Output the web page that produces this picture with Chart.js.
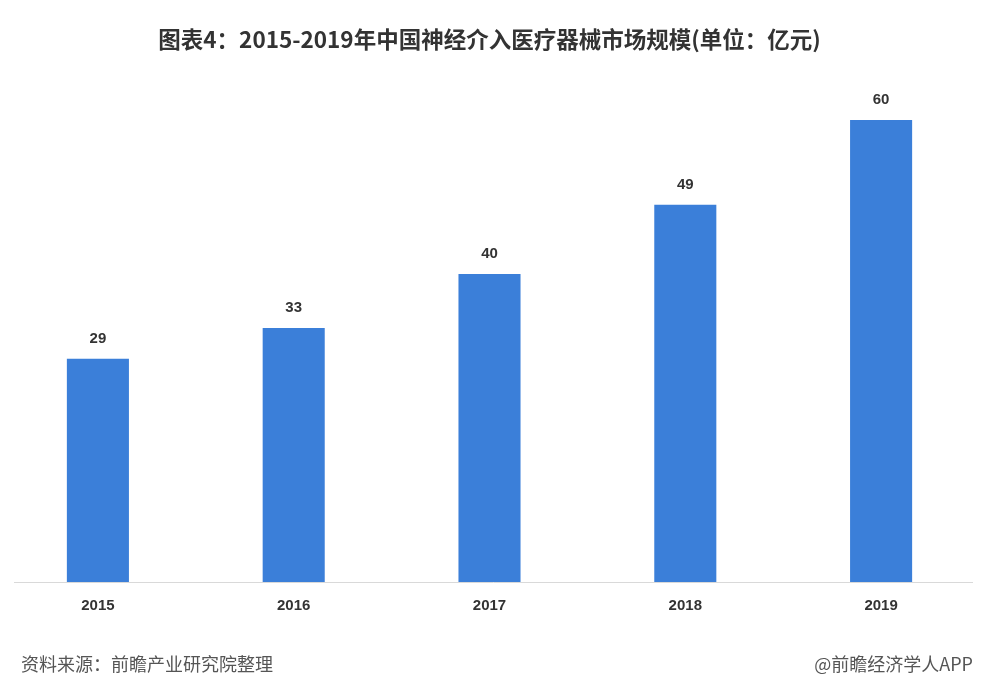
<!DOCTYPE html>
<html>
<head>
<meta charset="utf-8">
<script src="https://cdn.jsdelivr.net/npm/chart.js@4"></script>
<style>
  html, body { margin: 0; padding: 0; background: #fff; }
  #wrap { width: 987px; height: 687px; position: relative; }
</style>
</head>
<body>
<div id="wrap"><canvas id="barChart"></canvas></div>
<script>
const years = ['2015', '2016', '2017', '2018', '2019'];
const marketSize = [29, 33, 40, 49, 60];
const chartTitle = '图表4：2015-2019年中国神经介入医疗器械市场规模(单位：亿元)';
const sourceNote = '资料来源：前瞻产业研究院整理';
const brandNote = '@前瞻经济学人APP';

const cjk = '"Noto Sans CJK SC", "Noto Sans", sans-serif';

// value labels above bars, baseline and footer texts
const extras = {
    id: 'extras',
    afterDatasetsDraw(chart) {
        const ctx = chart.ctx;
        const meta = chart.getDatasetMeta(0);
        ctx.save();
        ctx.fillStyle = '#333';
        ctx.font = 'bold 15px "Liberation Sans", Arial, sans-serif';
        ctx.textAlign = 'center';
        ctx.textBaseline = 'middle';
        meta.data.forEach((bar, i) => {
            ctx.fillText(marketSize[i], bar.x, bar.y - 20);
        });

        const yBase = chart.scales.y.getPixelForValue(0);
        ctx.strokeStyle = '#d9d9d9';
        ctx.lineWidth = 1;
        ctx.beginPath();
        ctx.moveTo(14, Math.round(yBase) + 0.5);
        ctx.lineTo(973, Math.round(yBase) + 0.5);
        ctx.stroke();

        ctx.fillStyle = '#555';
        ctx.font = '18px ' + cjk;
        ctx.textAlign = 'left';
        ctx.fillText(sourceNote, 21, 664);
        ctx.textAlign = 'right';
        ctx.fillText(brandNote, 973, 664);
        ctx.restore();
    }
};

new Chart(document.getElementById('barChart'), {
    type: 'bar',
    data: {
        labels: years,
        datasets: [{
            label: '市场规模',
            data: marketSize,
            backgroundColor: '#3b7fd9',
            categoryPercentage: 1,
            barPercentage: 0.317
        }]
    },
    options: {
        responsive: true,
        maintainAspectRatio: false,
        animation: false,
        layout: { padding: { left: 0, right: 8, top: 0, bottom: 0 } },
        plugins: {
            legend: { display: false },
            tooltip: { enabled: false },
            title: {
                display: true,
                text: chartTitle,
                color: '#333',
                font: { family: cjk, size: 22.5, weight: 'bold', lineHeight: 1.2 },
                padding: { top: 26, bottom: 28.5 }
            }
        },
        scales: {
            x: {
                grid: { display: false, drawTicks: false },
                border: { display: false },
                ticks: {
                    color: '#333',
                    padding: 15,
                    font: { family: '"Liberation Sans", Arial, sans-serif', size: 15, weight: 'bold' }
                },
                afterFit(scale) { scale.height = 105; }
            },
            y: {
                display: false,
                min: 0,
                max: 65
            }
        }
    },
    plugins: [extras]
});
</script>
</body>
</html>
